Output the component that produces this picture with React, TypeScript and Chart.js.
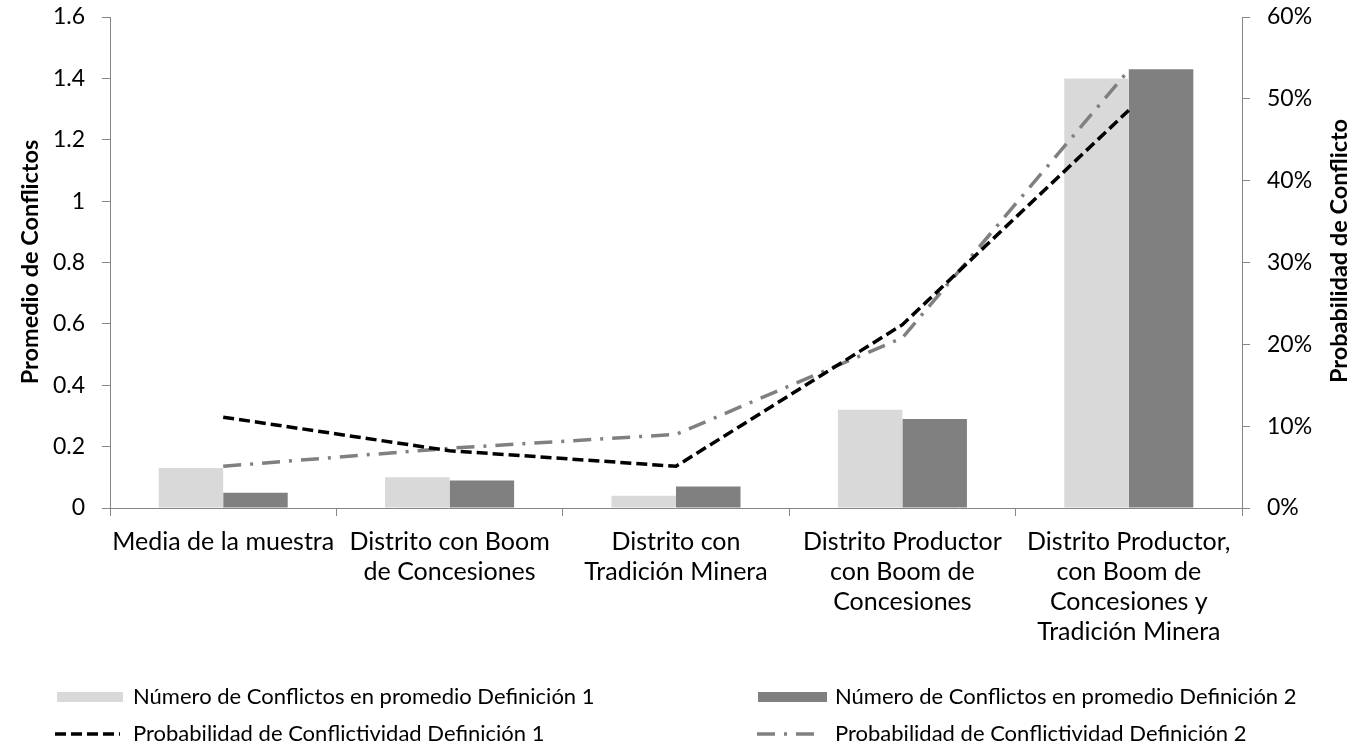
import React, { useEffect, useRef } from "react";
import { Chart, registerables } from "chart.js";

Chart.register(...registerables);

const categories: string[][] = [
  ["Media de la muestra"],
  ["Distrito con Boom", "de Concesiones"],
  ["Distrito con", "Tradición Minera"],
  ["Distrito Productor", "con Boom de", "Concesiones"],
  ["Distrito Productor,", "con Boom de", "Concesiones y", "Tradición Minera"],
];

const conflictosDef1 = [0.13, 0.1, 0.04, 0.32, 1.4];
const conflictosDef2 = [0.05, 0.09, 0.07, 0.29, 1.43];
const probabilidadDef1 = [11.1, 7.0, 5.1, 22.4, 48.6];
const probabilidadDef2 = [5.1, 7.3, 9.0, 20.8, 53.5];

const leftTicks = [0, 0.2, 0.4, 0.6, 0.8, 1, 1.2, 1.4, 1.6];
const rightTicks = [0, 10, 20, 30, 40, 50, 60];

const seriesNames = [
  "Número de Conflictos en promedio Definición 1",
  "Número de Conflictos en promedio Definición 2",
  "Probabilidad de Conflictividad Definición 1",
  "Probabilidad de Conflictividad Definición 2",
];

const leftTitle = "Promedio de Conflictos";
const rightTitle = "Probabilidad de Conflicto";

const FONT = "Lato, 'Open Sans', sans-serif";
const AXIS_GRAY = "#868686";

const titlesPlugin = {
  id: "axisTitles",
  afterDraw(chart: any) {
    const ctx = chart.ctx;
    ctx.save();
    ctx.fillStyle = "#000";
    ctx.font = `bold 23.5px ${FONT}`;
    ctx.textAlign = "center";
    ctx.textBaseline = "middle";
    const draw = (text: string, x: number, y: number) => {
      ctx.save();
      ctx.translate(x, y);
      ctx.rotate(-Math.PI / 2);
      ctx.fillText(text, 0, 0);
      ctx.restore();
    };
    draw(leftTitle, 30, 262);
    draw(rightTitle, 1339, 251);
    ctx.restore();
  },
};

const legendPlugin = {
  id: "customLegend",
  afterDraw(chart: any) {
    const ctx = chart.ctx;
    const ds = chart.data.datasets;
    const items = [
      { i: 0, kind: "box", x0: 57, x1: 123, tx: 133, y: 697 },
      { i: 1, kind: "box", x0: 758, x1: 827, tx: 835, y: 697 },
      { i: 2, kind: "line", x0: 55, x1: 120, tx: 133, y: 734 },
      { i: 3, kind: "line", x0: 757, x1: 822, tx: 835, y: 734 },
    ];
    ctx.save();
    for (const it of items) {
      const d = ds[it.i];
      if (it.kind === "box") {
        ctx.fillStyle = d.backgroundColor;
        ctx.fillRect(it.x0, it.y - 5, it.x1 - it.x0, 10);
      } else {
        ctx.strokeStyle = d.borderColor;
        ctx.lineWidth = d.borderWidth;
        ctx.setLineDash(d.borderDash);
        ctx.lineCap = "butt";
        ctx.beginPath();
        ctx.moveTo(it.x0, it.y);
        ctx.lineTo(it.x1, it.y);
        ctx.stroke();
        ctx.setLineDash([]);
      }
      ctx.fillStyle = "#000";
      ctx.font = `22px ${FONT}`;
      ctx.textAlign = "left";
      ctx.textBaseline = "middle";
      ctx.fillText(d.label, it.tx, it.y);
    }
    ctx.restore();
  },
};

export default function App() {
  const ref = useRef<HTMLCanvasElement>(null);

  useEffect(() => {
    document.body.style.margin = "0";
    const canvas = ref.current;
    if (!canvas) return;
    const chart = new Chart(canvas, {
      type: "bar",
      data: {
        labels: categories,
        datasets: [
          {
            type: "bar",
            label: seriesNames[0],
            data: conflictosDef1,
            backgroundColor: "#d9d9d9",
            yAxisID: "y",
            order: 2,
          },
          {
            type: "bar",
            label: seriesNames[1],
            data: conflictosDef2,
            backgroundColor: "#808080",
            yAxisID: "y",
            order: 2,
          },
          {
            type: "line",
            label: seriesNames[2],
            data: probabilidadDef1,
            borderColor: "#000000",
            backgroundColor: "#000000",
            borderWidth: 3.5,
            borderDash: [11, 5],
            pointRadius: 0,
            tension: 0,
            fill: false,
            yAxisID: "y1",
            order: 0,
          },
          {
            type: "line",
            label: seriesNames[3],
            data: probabilidadDef2,
            borderColor: "#808080",
            backgroundColor: "#808080",
            borderWidth: 3.5,
            borderDash: [18, 9, 3, 9],
            pointRadius: 0,
            tension: 0,
            fill: false,
            yAxisID: "y1",
            order: 1,
          },
        ] as any,
      },
      options: {
        responsive: false,
        animation: false,
        layout: { padding: { top: 17, left: 0, right: 0, bottom: 0 } },
        plugins: {
          legend: { display: false },
          tooltip: { enabled: false },
        },
        datasets: {
          bar: { categoryPercentage: 0.57, barPercentage: 1 },
        },
        scales: {
          x: {
            offset: true,
            grid: {
              offset: true,
              drawOnChartArea: false,
              drawTicks: true,
              tickLength: 8,
              color: AXIS_GRAY,
            },
            border: { color: AXIS_GRAY, width: 1 },
            ticks: {
              color: "#000",
              font: { family: FONT, size: 25 },
              padding: 11,
              maxRotation: 0,
              autoSkip: false,
            },
            afterFit(scale: any) {
              scale.height = 239;
            },
          },
          y: {
            position: "left",
            min: 0,
            max: 1.6,
            afterBuildTicks(scale: any) {
              scale.ticks = leftTicks.map((v) => ({ value: v }));
            },
            grid: {
              drawOnChartArea: false,
              drawTicks: true,
              tickLength: 8,
              color: AXIS_GRAY,
            },
            border: { color: AXIS_GRAY, width: 1 },
            ticks: {
              color: "#000",
              font: { family: FONT, size: 23 },
              padding: 17,
              callback: (v: any) => String(Math.round(Number(v) * 10) / 10),
            },
            afterFit(scale: any) {
              scale.width = 110;
              scale.paddingTop = 0;
              scale.paddingBottom = 0;
            },
          },
          y1: {
            position: "right",
            min: 0,
            max: 60,
            afterBuildTicks(scale: any) {
              scale.ticks = rightTicks.map((v) => ({ value: v }));
            },
            grid: {
              drawOnChartArea: false,
              drawTicks: true,
              tickLength: 8,
              color: AXIS_GRAY,
            },
            border: { color: AXIS_GRAY, width: 1 },
            ticks: {
              color: "#000",
              font: { family: FONT, size: 23 },
              padding: 17,
              callback: (v: any) => `${v}%`,
            },
            afterFit(scale: any) {
              scale.width = 129;
              scale.paddingTop = 0;
              scale.paddingBottom = 0;
            },
          },
        },
      },
      plugins: [legendPlugin, titlesPlugin],
    });
    return () => chart.destroy();
  }, []);

  return (
    <canvas
      ref={ref}
      width={1371}
      height={747}
      style={{ display: "block", width: 1371, height: 747 }}
    />
  );
}
